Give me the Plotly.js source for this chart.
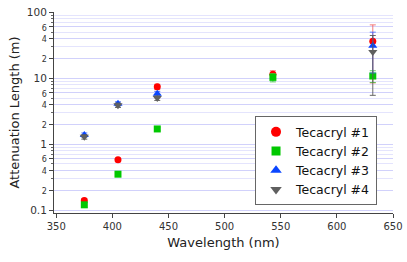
<!DOCTYPE html>
<html>
<head>
<meta charset="utf-8">
<script src="https://cdn.plot.ly/plotly-3.0.1.min.js"></script>
<style>html,body{margin:0;padding:0;background:#fff;}#chart{width:407px;height:262px;}</style>
</head>
<body>
<div id="chart"></div>
<script>
// Data
const seriesNames = ["Tecacryl #1", "Tecacryl #2", "Tecacryl #3", "Tecacryl #4"];
const wl1 = [375, 405, 440, 543, 632];
const att1 = [0.14, 0.58, 7.4, 11.5, 36.5];
const err1 = [0.01, 0.03, 0.7, 1.5, 28];
const wl2 = [375, 405, 440, 543, 632];
const att2 = [0.12, 0.35, 1.7, 10.3, 10.8];
const err2 = [0.01, 0.02, 0.08, 1.5, 2.2];
const wl3 = [375, 405, 440, 632];
const att3 = [1.38, 4.1, 5.8, 31];
const err3 = [0.1, 0.3, 0.5, 19];
const wl4 = [375, 405, 440, 632];
const att4 = [1.29, 3.9, 5.0, 25];
const err4 = [0.1, 0.3, 0.4, 19.5];

const xTickVals = [350, 400, 450, 500, 550, 600, 650];
const yTickVals = [0.1, 0.2, 0.4, 0.6, 1, 2, 4, 6, 10, 20, 40, 60, 100];
const yTickLabels = ["0.1", "2", "4", "6", "1", "2", "4", "6", "10", "2", "4", "6", "100"];
const yMajor = ["0.1", "1", "10", "100"];

const yTickText = yTickLabels.map((t, i) =>
  yMajor.includes(String(yTickVals[i])) ? t : '<span style="font-size:8px">' + t + '</span>');

const colors = ['#ff0000', '#00c800', '#0a46ff', '#5f5f5f'];
const symbols = ['circle', 'square', 'triangle-up', 'triangle-down'];
const errColors = ['rgba(240,90,90,0.8)', 'rgba(60,200,60,0.8)', 'rgba(60,100,255,0.8)', 'rgba(90,90,90,0.9)'];
const xs = [wl1, wl2, wl3, wl4];
const ys = [att1, att2, att3, att4];
const es = [err1, err2, err3, err4];
const dataSizes = [7, 7, 8, 8];
const legendSizes = [10, 9, 10, 10];

const data = [];
for (let i = 0; i < 4; i++) {
  data.push({
    type: 'scatter', mode: 'markers', name: seriesNames[i], x: xs[i], y: ys[i],
    showlegend: false,
    marker: {color: colors[i], symbol: symbols[i], size: dataSizes[i]},
    error_y: {type: 'data', array: es[i], visible: true, color: errColors[i], thickness: 1, width: 3}
  });
}
for (let i = 0; i < 4; i++) {
  data.push({
    type: 'scatter', mode: 'markers', name: seriesNames[i], x: [null], y: [null],
    showlegend: true,
    marker: {color: colors[i], symbol: symbols[i], size: legendSizes[i]}
  });
}

const gridCol = 'rgba(170,170,250,0.32)';
const layout = {
  width: 407, height: 262,
  margin: {l: 54, r: 14, t: 12, b: 49},
  paper_bgcolor: '#fff', plot_bgcolor: '#fff',
  font: {family: 'DejaVu Sans, Verdana, sans-serif', color: '#222', size: 10},
  showlegend: true,
  legend: {
    x: 0.593, y: 0.26, xanchor: 'left', yanchor: 'middle',
    bordercolor: '#666', borderwidth: 1, bgcolor: '#fff',
    font: {size: 12.5, color: '#111'}, itemsizing: 'trace',
    tracegroupgap: 0
  },
  xaxis: {
    range: [348, 650], tickmode: 'array', tickvals: xTickVals,
    ticks: 'outside', ticklen: 4, tickcolor: '#444',
    showline: true, linecolor: '#444', linewidth: 1,
    showgrid: false, zeroline: false, mirror: false,
    tickfont: {size: 10, color: '#333'},
    title: {text: 'Wavelength (nm)', font: {size: 13, color: '#222'}, standoff: 6}
  },
  yaxis: {
    type: 'log', range: [-1.045, 2.005],
    tickmode: 'array', tickvals: yTickVals, ticktext: yTickText,
    ticks: 'outside', ticklen: 4, tickcolor: '#444',
    showline: true, linecolor: '#444', linewidth: 1,
    showgrid: true, gridcolor: gridCol, gridwidth: 1,
    zeroline: false,
    minor: {dtick: 'D1', showgrid: true, gridcolor: gridCol, ticks: 'outside', ticklen: 2, tickcolor: '#666'},
    tickfont: {size: 10.5, color: '#333'},
    title: {text: 'Attenuation Length (m)', font: {size: 13, color: '#222'}, standoff: 4}
  }
};

Plotly.newPlot('chart', data, layout, {displayModeBar: false, staticPlot: true});
</script>
</body>
</html>
